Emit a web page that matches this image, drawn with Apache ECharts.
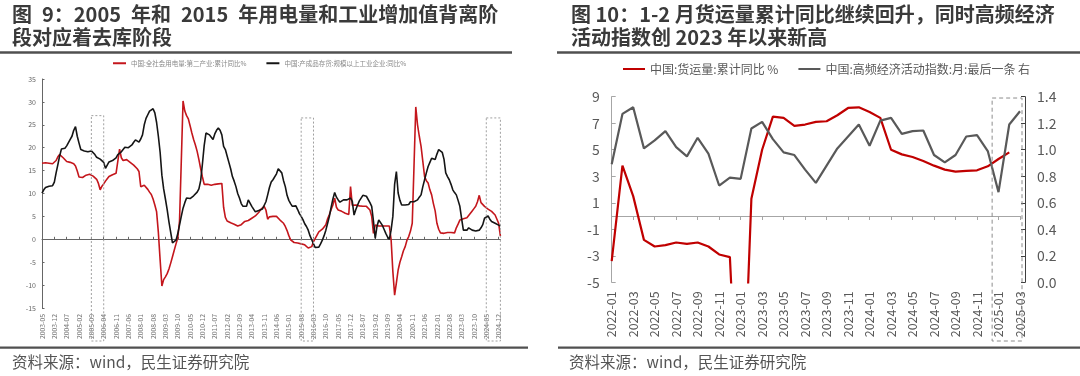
<!DOCTYPE html>
<html>
<head>
<meta charset="utf-8">
<script src="https://cdn.jsdelivr.net/npm/echarts@6/dist/echarts.min.js"></script>
<style>
html,body{margin:0;padding:0;background:#fff;}
#c{width:1080px;height:376px;}
</style>
</head>
<body>
<div id="c"></div>
<script>
// ---------- Chart 9 data (monthly, 2003-05 .. 2025-01) ----------
const startYear9 = 2003, startMonth9 = 5, count9 = 261;
const cats9 = [];
for (let i = 0; i < count9; i++) {
  const t = (startYear9 * 12 + startMonth9 - 1) + i;
  const y = Math.floor(t / 12), m = t % 12 + 1;
  cats9.push(y + '-' + (m < 10 ? '0' + m : m));
}
const elecName = '中国:全社会用电量:第二产业:累计同比%';
const invName = '中国:产成品存货:规模以上工业企业:同比%';
const elec = [
16.6,16.5,16.7,16.4,16.6,16.3,16.5,16.6,17.2,18.0,
18.5,18.3,17.8,17.4,17.0,16.6,16.8,16.9,16.5,16.0,
14.9,13.6,13.4,13.5,13.8,14.0,14.2,14.2,14.1,13.8,
13.4,13.1,12.2,10.8,11.6,12.1,12.7,13.2,13.7,14.1,
14.1,14.2,14.4,14.6,19.7,17.8,17.2,17.3,17.4,17.1,
16.8,16.5,16.2,15.9,15.4,14.8,11.5,11.6,11.8,11.4,
10.9,10.3,9.8,8.8,7.5,6.0,1.5,-4.5,-10.2,-8.8,
-8.2,-7.5,-6.5,-5.2,-3.8,-2.4,-1.0,0.3,4.0,17.0,
30.2,28.0,27.0,26.3,24.8,23.2,21.8,20.6,19.2,17.4,
15.4,13.6,12.0,11.9,12.0,11.9,11.8,12.0,12.0,12.0,
12.1,12.2,12.2,7.0,4.8,4.0,3.8,3.6,3.5,3.3,
3.0,2.9,3.0,3.2,3.6,3.9,4.0,4.1,3.8,4.6,
4.9,5.1,5.5,5.9,6.5,6.8,7.2,6.4,4.4,4.9,
5.0,5.0,5.0,5.0,4.6,4.2,3.8,3.5,2.8,1.9,
0.8,-0.1,-0.5,-0.7,-0.7,-0.8,-0.9,-1.0,-1.1,-1.2,
-1.5,-1.9,-2.3,-1.6,-0.5,0.2,0.9,1.6,2.0,2.2,
2.4,3.2,4.5,5.4,6.5,7.5,9.0,7.0,6.4,6.3,
6.1,5.9,5.7,5.6,5.4,11.5,7.4,7.3,7.5,7.4,
7.3,7.2,7.2,7.2,7.2,6.9,6.4,5.0,1.3,3.1,
3.0,2.9,2.9,2.9,2.9,2.9,2.9,2.9,0.0,-7.0,
-12.2,-9.5,-6.7,-5.0,-3.8,-2.5,-1.6,-0.2,0.6,1.8,
3.5,16.0,28.9,25.0,22.5,20.3,17.0,13.7,12.8,12.3,
10.8,9.7,7.8,6.2,3.5,2.2,1.4,1.2,1.3,1.2,
1.5,1.7,1.5,1.3,1.4,2.5,3.3,4.2,4.6,4.5,
4.6,4.7,5.2,5.6,6.2,6.7,7.2,8.2,9.6,8.0,
7.6,7.2,6.9,6.6,6.3,6.1,5.7,5.3,5.0,3.5,
0.7];
const inv = [
10.1,10.8,11.3,11.5,11.6,11.7,11.7,12.5,14.5,16.3,
18.2,19.7,19.8,19.9,20.4,20.8,21.8,22.5,23.8,24.6,
22.5,21.0,19.6,19.4,19.3,19.2,19.1,19.0,19.3,18.9,
18.5,17.9,17.7,17.5,17.4,16.8,15.5,16.2,16.9,17.1,
17.2,17.4,17.8,18.5,18.8,19.1,19.6,20.1,20.1,20.0,
20.1,20.6,21.2,21.7,21.6,21.2,21.9,22.8,25.0,26.4,
27.2,28.0,28.3,28.5,27.6,25.5,22.5,19.0,14.0,11.0,
8.8,6.5,3.8,1.5,-0.8,-0.7,-0.2,1.2,3.1,5.0,
6.8,8.0,9.0,9.0,8.9,9.1,9.5,9.9,10.3,11.0,
12.8,16.5,20.5,23.2,23.0,22.8,22.3,21.8,23.0,23.8,
24.3,23.8,22.8,20.3,19.6,18.2,16.8,15.4,13.7,12.7,
11.5,10.0,9.0,7.8,7.2,7.0,7.2,8.6,7.9,7.2,
6.6,6.0,6.1,6.3,6.4,6.6,6.8,8.2,9.7,11.3,
12.5,13.0,13.1,14.3,15.4,15.1,14.5,12.8,11.5,9.6,
8.5,7.8,7.2,7.2,7.3,6.5,5.6,5.0,4.3,3.4,
2.8,2.0,0.8,-0.1,-1.0,-1.8,-2.0,-1.7,-1.0,-0.2,
0.8,2.0,3.5,5.0,7.0,8.8,10.2,9.2,8.6,8.1,
7.9,8.6,9.0,8.6,8.7,9.0,8.3,5.3,6.5,7.5,
8.4,9.0,9.6,9.7,9.4,9.0,8.0,7.2,4.0,0.2,
2.8,4.2,3.8,3.1,2.2,1.3,0.5,0.0,2.0,5.0,
12.0,14.8,10.1,8.5,7.5,7.9,7.5,7.2,7.6,8.2,
8.2,8.2,8.4,8.6,9.2,9.7,11.5,13.0,14.5,15.9,
16.8,17.7,17.6,17.4,18.6,19.6,19.9,19.0,17.5,14.5,
13.7,13.0,12.0,10.8,10.2,9.7,8.5,7.2,4.5,2.0,
2.0,2.0,2.5,2.8,2.0,1.7,1.8,2.0,2.0,2.5,
3.2,4.6,4.9,5.1,4.4,3.9,3.7,3.5,3.2,3.1,
2.9];
const yTicks9 = {min: -15, max: 35, interval: 5};
// dashed annotation boxes: [start category, end category, top value]
const boxes9 = [['2005-09', '2006-04', 27], ['2015-08', '2016-03', 26.5], ['2024-05', '2025-01', 26.5]];

// ---------- Chart 10 data (monthly, 2022-01 .. 2025-03) ----------
const cats10 = [
'2022-01','2022-02','2022-03','2022-04','2022-05','2022-06','2022-07','2022-08','2022-09','2022-10','2022-11','2022-12',
'2023-01','2023-02','2023-03','2023-04','2023-05','2023-06','2023-07','2023-08','2023-09','2023-10','2023-11','2023-12',
'2024-01','2024-02','2024-03','2024-04','2024-05','2024-06','2024-07','2024-08','2024-09','2024-10','2024-11','2024-12',
'2025-01','2025-02','2025-03'];
const freightName = '中国:货运量:累计同比 %';
const activityName = '中国:高频经济活动指数:月:最后一条 右';
const freight = [
-3.4,3.8,1.5,-1.8,-2.3,-2.2,-2.0,-2.1,-2.0,-2.3,-2.9,-3.1,
-20,1.3,5.0,7.5,7.4,6.8,6.9,7.1,7.15,7.6,8.15,8.2,
7.85,7.4,5.0,4.65,4.45,4.15,3.8,3.5,3.35,3.4,3.45,3.75,
4.3,4.8,null];
const activity = [
0.89,1.27,1.32,1.01,1.07,1.14,1.02,0.95,1.09,0.97,0.73,0.79,
0.78,1.16,1.21,1.08,0.98,0.96,0.85,0.75,0.88,1.01,1.10,1.19,
1.03,1.22,1.24,1.12,1.14,1.145,0.96,0.905,0.96,1.10,1.11,0.99,
0.68,1.19,1.29];
const yLeft10 = {min: -5, max: 9, interval: 2};
const yRight10 = {min: 0, max: 1.4, interval: 0.2};
const box10 = ['2024-12', '2025-01', '2025-03', 1.39];

// ---------- Chart ----------
const FONT = '"Noto Sans CJK SC","Noto Sans",sans-serif';
const chart = echarts.init(document.getElementById('c'), null, {renderer: 'canvas'});
const SP = '\u2002';

const option = {
  animation: false,
  backgroundColor: '#fff',
  textStyle: {fontFamily: FONT},
  title: [
    {text: '图' + SP + '9：2005' + SP + '年和' + SP + '2015' + SP + '年用电量和工业增加值背离阶\n段对应着去库阶段', left: 12, top: 3, padding: 0,
     textStyle: {fontSize: 20, fontWeight: 'bold', color: '#3a3a3a', lineHeight: 23, fontFamily: FONT}},
    {text: '图 10：1-2 月货运量累计同比继续回升，同时高频经济\n活动指数创 2023 年以来新高', left: 571, top: 3, padding: 0,
     textStyle: {fontSize: 20, fontWeight: 'bold', color: '#3a3a3a', lineHeight: 23, fontFamily: FONT}},
    {text: '资料来源：wind，民生证券研究院', left: 12, top: 354, padding: 0,
     textStyle: {fontSize: 15.5, fontWeight: 'normal', color: '#555', fontFamily: FONT}},
    {text: '资料来源：wind，民生证券研究院', left: 569, top: 354, padding: 0,
     textStyle: {fontSize: 15.5, fontWeight: 'normal', color: '#555', fontFamily: FONT}}
  ],
  legend: [
    {data: [elecName, invName], left: 113, top: 60, padding: 0, itemWidth: 13, itemHeight: 2, itemGap: 20,
     icon: 'rect', selectedMode: false, textStyle: {fontSize: 6.5, color: '#888', fontFamily: FONT}},
    {data: [freightName, activityName], left: 623, top: 63, padding: 0, itemWidth: 22, itemHeight: 2, itemGap: 20,
     icon: 'rect', selectedMode: false, textStyle: {fontSize: 12, color: '#595959', fontFamily: FONT}}
  ],
  grid: [
    {left: 42, top: 79, width: 458.4, height: 229},
    {left: 611.7, top: 96.7, width: 408.3, height: 185.6}
  ],
  xAxis: [
    {gridIndex: 0, type: 'category', data: cats9, boundaryGap: false, position: 'bottom',
     axisLine: {show: false, onZero: false}, axisTick: {show: false}, splitLine: {show: false},
     axisLabel: {rotate: 90, interval: 6, fontSize: 6.8, color: '#777', margin: 6, fontFamily: FONT}},
    {gridIndex: 0, type: 'category', data: cats9, boundaryGap: false, position: 'bottom',
     axisLine: {show: true, onZero: true, onZeroAxisIndex: 0, lineStyle: {color: '#666', width: 1}},
     axisTick: {show: true, inside: true, length: 2.5, interval: 6, lineStyle: {color: '#666'}},
     axisLabel: {show: false}, splitLine: {show: false}},
    {gridIndex: 1, type: 'category', data: cats10, boundaryGap: false, position: 'bottom',
     axisLine: {show: false, onZero: false}, axisTick: {show: false}, splitLine: {show: false},
     axisLabel: {rotate: 90, interval: 1, fontSize: 12.5, color: '#595959', margin: 9, fontFamily: FONT}},
    {gridIndex: 1, type: 'category', data: cats10, boundaryGap: false, position: 'bottom',
     axisLine: {show: true, onZero: true, onZeroAxisIndex: 1, lineStyle: {color: '#a6a6a6', width: 1}},
     axisTick: {show: true, inside: false, length: 4, interval: 1, lineStyle: {color: '#a6a6a6'}},
     axisLabel: {show: false}, splitLine: {show: false}}
  ],
  yAxis: [
    {gridIndex: 0, type: 'value', min: yTicks9.min, max: yTicks9.max, interval: yTicks9.interval,
     axisLine: {show: true, lineStyle: {color: '#666'}}, axisTick: {show: true, inside: true, length: 2.5, lineStyle: {color: '#666'}},
     splitLine: {show: false}, axisLabel: {fontSize: 7, color: '#666', margin: 6, fontFamily: FONT}},
    {gridIndex: 1, type: 'value', position: 'left', min: yLeft10.min, max: yLeft10.max, interval: yLeft10.interval,
     axisLine: {show: true, lineStyle: {color: '#a6a6a6'}}, axisTick: {show: true, inside: true, length: 4, lineStyle: {color: '#a6a6a6'}},
     splitLine: {show: false}, axisLabel: {fontSize: 14, color: '#595959', margin: 12, fontFamily: FONT}},
    {gridIndex: 1, type: 'value', position: 'right', offset: 5, min: yRight10.min, max: yRight10.max, interval: yRight10.interval,
     axisLine: {show: true, lineStyle: {color: '#404040'}}, axisTick: {show: true, inside: true, length: 4, lineStyle: {color: '#404040'}},
     splitLine: {show: false},
     axisLabel: {fontSize: 14, color: '#595959', margin: 12, fontFamily: FONT, formatter: v => v.toFixed(1)}}
  ],
  series: [
    {name: elecName, type: 'line', xAxisIndex: 0, yAxisIndex: 0, data: elec, symbol: 'none',
     lineStyle: {color: '#C4161C', width: 1.6}, itemStyle: {color: '#C4161C'}},
    {name: invName, type: 'line', xAxisIndex: 0, yAxisIndex: 0, data: inv, symbol: 'none',
     lineStyle: {color: '#151515', width: 1.6}, itemStyle: {color: '#151515'}},
    {name: freightName, type: 'line', xAxisIndex: 2, yAxisIndex: 1, data: freight, symbol: 'none',
     lineStyle: {color: '#C00000', width: 2.2}, itemStyle: {color: '#C00000'}},
    {name: activityName, type: 'line', xAxisIndex: 2, yAxisIndex: 2, data: activity, symbol: 'none',
     lineStyle: {color: '#595959', width: 2.2}, itemStyle: {color: '#595959'}}
  ]
};
chart.setOption(option);

// decorations: rules and dashed boxes computed from axes
const els = [];
function rule(x1, x2, y, w) {
  els.push({type: 'line', shape: {x1: x1, y1: y, x2: x2, y2: y}, style: {stroke: '#505050', lineWidth: w}, silent: true});
}
rule(0, 512, 52.5, 2.5);
rule(557, 1080, 52.5, 2.5);
rule(0, 528, 347.7, 2.2);
rule(558, 1080, 347.7, 2.2);

const boxBottom = 341;
boxes9.forEach(b => {
  const x0 = chart.convertToPixel({xAxisIndex: 0}, b[0]);
  const x1 = chart.convertToPixel({xAxisIndex: 0}, b[1]);
  const yt = chart.convertToPixel({yAxisIndex: 0}, b[2]);
  els.push({type: 'rect', shape: {x: x0, y: yt, width: x1 - x0, height: boxBottom - yt},
    style: {fill: null, stroke: '#a0a0a0', lineWidth: 1, lineDash: [2, 2]}, silent: true, z: 10});
});
{
  const xa = chart.convertToPixel({xAxisIndex: 2}, box10[0]);
  const xb = chart.convertToPixel({xAxisIndex: 2}, box10[1]);
  const xc = chart.convertToPixel({xAxisIndex: 2}, box10[2]);
  const yt = chart.convertToPixel({yAxisIndex: 2}, box10[3]);
  const x0 = (xa + xb) / 2 - 1;
  const x1 = xc + 2;
  els.push({type: 'rect', shape: {x: x0, y: yt, width: x1 - x0, height: boxBottom - yt},
    style: {fill: null, stroke: '#8c8c8c', lineWidth: 1, lineDash: [4, 3]}, silent: true, z: 10});
}
chart.setOption({graphic: {elements: els}});
</script>
</body>
</html>
